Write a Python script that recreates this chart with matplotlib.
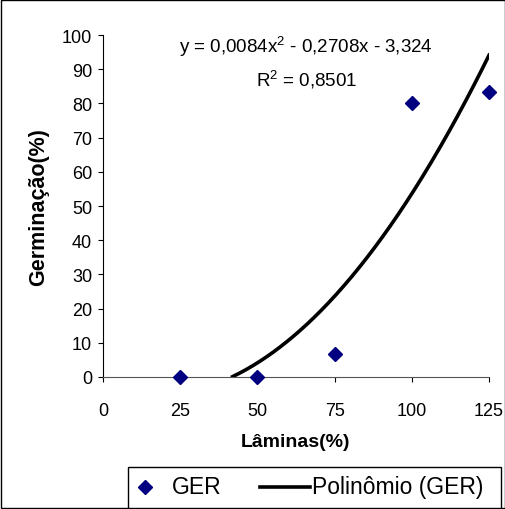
import numpy as np
import matplotlib.pyplot as plt
from matplotlib.patches import Rectangle
from matplotlib.lines import Line2D

plt.rcParams['font.family'] = ['Liberation Sans', 'DejaVu Sans']
plt.rcParams['mathtext.fontset'] = 'custom'
plt.rcParams['mathtext.rm'] = 'Liberation Sans'
plt.rcParams['mathtext.it'] = 'Liberation Sans'

laminas = [25, 50, 75, 100, 125]
germinacao = [0, 0, 6.7, 80, 83.3]
coef = [0.0084, -0.2708, -3.324]  # trendline y = a x^2 + b x + c
r2 = 0.8501

W, H = 506, 510
fig = plt.figure(figsize=(W / 100, H / 100), dpi=100)
ax = fig.add_axes([103 / W, 1 - 378 / H, 386 / W, 342 / H])

xs = np.linspace(0, 125, 400)
ys = np.polyval(coef, xs)
keep = ys >= 0
ax.plot(xs[keep], ys[keep], color='black', lw=2.6, zorder=2)
ax.plot(laminas, germinacao, linestyle='none', marker='D', color='#000080',
        markersize=7.5, zorder=3, clip_on=False)

ax.set_xlim(0, 125)
ax.set_ylim(0, 100)
ax.set_xticks([0, 25, 50, 75, 100, 125])
ax.set_yticks(range(0, 101, 10))
for s in ['top', 'right']:
    ax.spines[s].set_visible(False)
ax.spines['left'].set_color('black')
ax.spines['bottom'].set_color('#555555')
ax.tick_params(direction='out', length=3.6, labelsize=13)
ax.tick_params(axis='y', pad=4.3)
ax.tick_params(axis='x', pad=14.5)
ax.set_xlabel('Lâminas(%)', fontsize=14, fontweight='bold', labelpad=10)
ax.set_ylabel('Germinação(%)', fontsize=15.5, fontweight='bold', labelpad=9)

ax.text(65.8, 96.8, 'y = 0,0084x$^2$ - 0,2708x - 3,324', ha='center', va='center', fontsize=13.5)
ax.text(65.8, 87.2, 'R$^2$ = ' + f'{r2:.4f}'.replace('.', ','), ha='center', va='center', fontsize=13.5)

# legend box (Excel style, cut by the bottom edge)
def px(x, y):
    return x / W, 1 - y / H

fig.patches.append(Rectangle(px(128, 515), 373 / W, 47 / H, transform=fig.transFigure,
                             fill=False, edgecolor='black', lw=1, clip_on=False))
mx, my = px(145, 488)
fig.lines.append(Line2D([mx], [my], marker='D', color='#000080', markersize=7.5,
                        linestyle='none', transform=fig.transFigure))
fig.text(*px(172, 488), 'GER', fontsize=16.5, va='center', ha='left')
x0, y0 = px(260, 488)
x1, _ = px(310, 488)
fig.lines.append(Line2D([x0, x1], [y0, y0], color='black', lw=2.6, transform=fig.transFigure))
fig.text(*px(312, 488), 'Polinômio (GER)', fontsize=16.5, va='center', ha='left')

fig.patches.append(Rectangle((0.001, 0.001), 0.997, 0.997, transform=fig.transFigure,
                             fill=False, edgecolor='black', lw=1))
fig.savefig('out.png', dpi=100)
